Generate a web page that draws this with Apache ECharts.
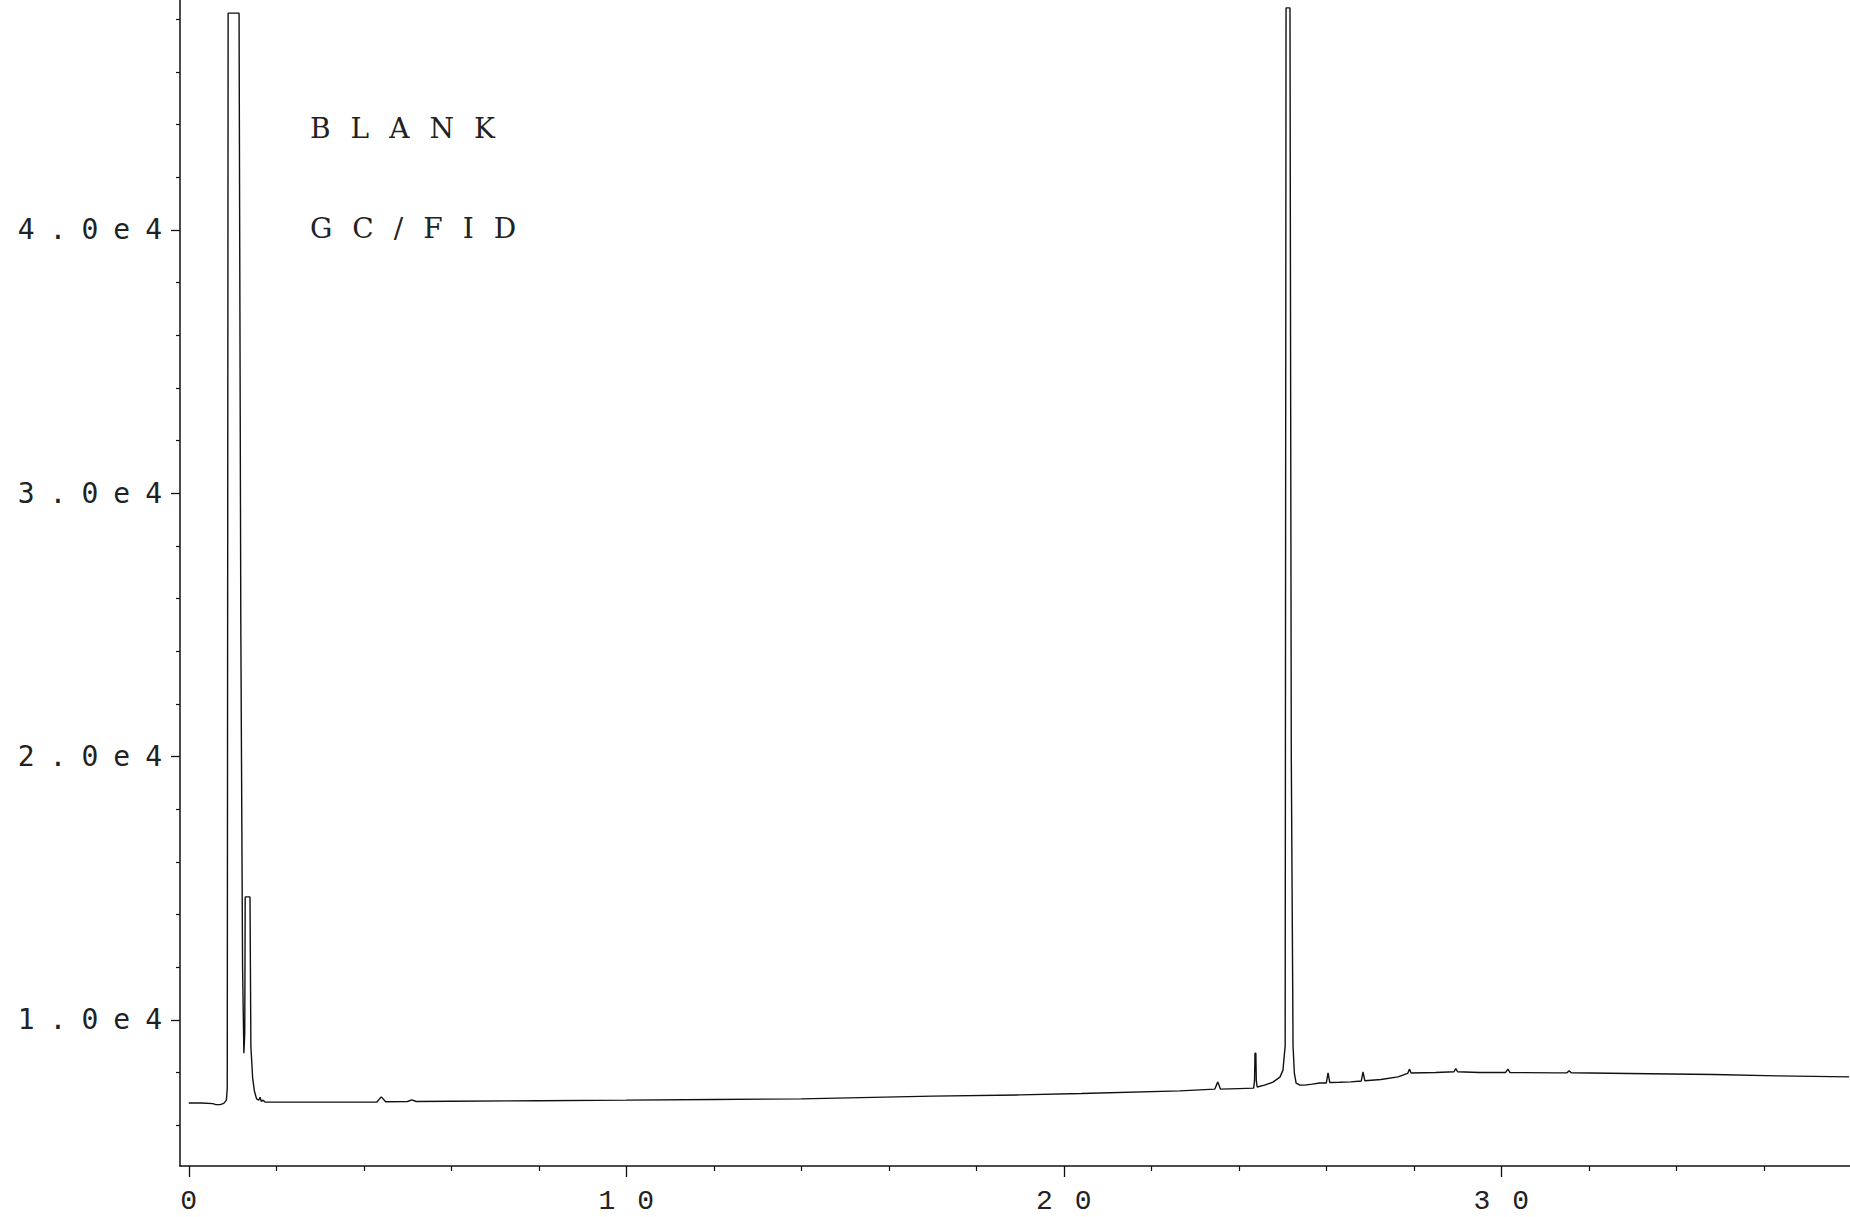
<!DOCTYPE html>
<html>
<head>
<meta charset="utf-8">
<script src="https://cdn.jsdelivr.net/npm/echarts@6/dist/echarts.min.js"></script>
<style>
html,body{margin:0;padding:0;background:#fff;}
#c{width:1850px;height:1217px;}
#c text[style*="DejaVu Sans Mono"]{letter-spacing:15px;}
#c text[style*="Liberation Mono"]{letter-spacing:22px;}
#c text[style*="DejaVu Serif"]{letter-spacing:20px;}
</style>
</head>
<body>
<div id="c"></div>
<script>
// Retention time (min)
const retentionTime = [
  0, 0.3, 0.55, 0.62, 0.72, 0.8, 0.86, 0.88, 0.9, 1.15, 1.19, 1.23, 1.26, 1.28, 1.29, 1.40, 1.42, 1.46, 1.5, 1.55, 1.6, 1.63, 1.66, 1.7, 1.75,
  3.0, 4.3, 4.4, 4.5, 5.0, 5.1, 5.2, 6.0, 8.0, 10.0, 12.0, 14.0, 17.0, 19.0, 20.4, 22.65,
  23.45, 23.52, 23.58, 24.0, 24.34, 24.36, 24.37, 24.39, 24.40, 24.42,
  24.59, 24.78, 24.94, 25.01, 25.04, 25.06, 25.08, 25.17, 25.2, 25.24, 25.27, 25.31, 25.4, 25.5, 25.68, 25.85,
  26.0, 26.04, 26.08, 26.3, 26.56, 26.8, 26.84, 26.88, 27.25, 27.64, 27.86, 27.9, 27.94, 28.5, 28.92, 28.96, 29.0,
  29.5, 30.1, 30.15, 30.2, 31.25, 31.5, 31.55, 31.6, 32.9, 34.86, 36.3, 37.95
];
// Detector signal (FID counts)
const detectorSignal = [
  6840, 6840, 6820, 6780, 6780, 6830, 6950, 7400, 48230, 48230, 25000, 12000, 8735, 9500, 14670, 14670, 9000, 7800, 7300, 7000, 6950, 7060, 6900, 6950, 6874,
  6874, 6880, 7076, 6890, 6900, 6960, 6900, 6910, 6930, 6950, 6977, 7000, 7102, 7150, 7205, 7304,
  7368, 7645, 7370, 7390, 7406, 7700, 8735, 8735, 7700, 7450,
  7520, 7634, 7824, 8090, 8660, 9000, 48430, 48430, 20000, 9000, 7980, 7600, 7520, 7520, 7560, 7600,
  7600, 7987, 7620, 7630, 7645, 7680, 8025, 7690, 7737, 7835, 7965, 8128, 7980, 8002, 8030, 8154, 8030,
  8002, 8002, 8128, 8000, 7987, 7990, 8063, 7990, 7965, 7926, 7873, 7835
];
const yLabelValues = [10000, 20000, 30000, 40000];
const yMinorTickValues = [6000, 8000, 12000, 14000, 16000, 18000, 22000, 24000, 26000, 28000, 32000, 34000, 36000, 38000, 42000, 44000, 46000, 48000];
const xLabelValues = [0, 10, 20, 30];
const xMinorTickValues = [2, 4, 6, 8, 12, 14, 16, 18, 22, 24, 26, 28, 32, 34, 36];
const annotationLines = ['BLANK', 'GC/FID'];

const X_MIN = -0.2, X_MAX = 37.97, Y_MIN = 4450, Y_MAX = 48730;
const ink = '#111';

const chart = echarts.init(document.getElementById('c'), null, {renderer: 'svg', width: 1850, height: 1217});

chart.setOption({
  animation: false,
  backgroundColor: '#fff',
  grid: {left: 180, right: 0, top: 0, bottom: 51, containLabel: false, outerBoundsMode: 'none'},
  xAxis: [
    {
      type: 'value', min: X_MIN, max: X_MAX, position: 'bottom',
      axisLine: {show: true, onZero: false, lineStyle: {color: ink, width: 1.5}},
      axisTick: {show: true, customValues: xLabelValues, length: 11, lineStyle: {color: ink, width: 1.3}},
      axisLabel: {show: true, customValues: xLabelValues, formatter: v => String(v), margin: 21,
        padding: [0, 0, 0, 22],
        fontFamily: 'Liberation Mono', fontSize: 28, color: '#222'},
      splitLine: {show: false}
    },
    {
      type: 'value', min: X_MIN, max: X_MAX, position: 'bottom', gridIndex: 0,
      axisLine: {show: false, onZero: false},
      axisTick: {show: true, customValues: xMinorTickValues, length: 5, lineStyle: {color: ink, width: 1.2}},
      axisLabel: {show: false},
      splitLine: {show: false}
    }
  ],
  yAxis: [
    {
      type: 'value', min: Y_MIN, max: Y_MAX, position: 'left',
      axisLine: {show: true, onZero: false, lineStyle: {color: ink, width: 1.5}},
      axisTick: {show: true, customValues: yLabelValues, length: 9, lineStyle: {color: ink, width: 1.3}},
      axisLabel: {show: true, customValues: yLabelValues, formatter: v => (v / 10000).toFixed(1) + 'e4',
        margin: 3, fontFamily: 'DejaVu Sans Mono', fontSize: 28, color: '#222'},
      splitLine: {show: false}
    },
    {
      type: 'value', min: Y_MIN, max: Y_MAX, position: 'left', gridIndex: 0,
      axisLine: {show: false, onZero: false},
      axisTick: {show: true, customValues: yMinorTickValues, length: 4, lineStyle: {color: ink, width: 1.2}},
      axisLabel: {show: false},
      splitLine: {show: false}
    }
  ],
  graphic: annotationLines.map((t, i) => ({
    type: 'text', left: 310, top: 114 + i * 100, silent: true,
    style: {text: t, fill: '#222', font: '28px "DejaVu Serif"'}
  })),
  series: [{
    type: 'line', xAxisIndex: 0, yAxisIndex: 0,
    data: retentionTime.map((t, i) => [t, detectorSignal[i]]),
    symbol: 'none', showSymbol: false, clip: true, silent: true,
    lineStyle: {color: ink, width: 1.4}
  }]
});
</script>
</body>
</html>
